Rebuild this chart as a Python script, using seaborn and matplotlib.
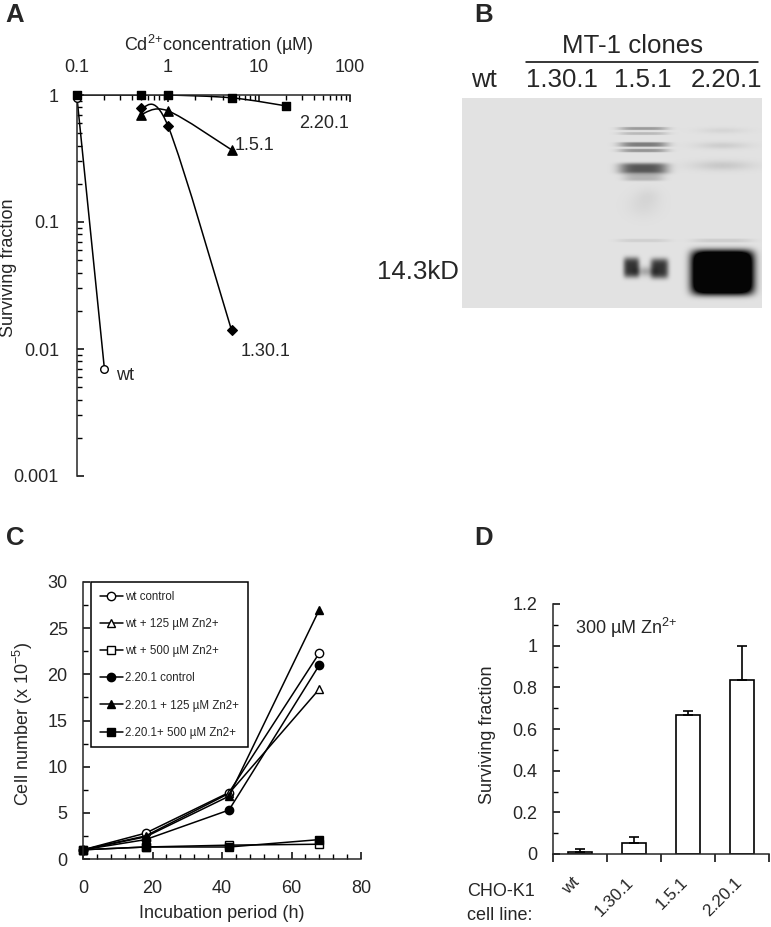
"""Four panel figure: Cd/Zn survival, MT-1 blot, growth curves."""

import numpy as np
import pandas as pd
import matplotlib
matplotlib.use("Agg")
import matplotlib.pyplot as plt
from matplotlib.path import Path
from matplotlib.patches import PathPatch
from matplotlib.ticker import FixedLocator, FixedFormatter, LogLocator, NullFormatter, MultipleLocator
from matplotlib.transforms import ScaledTranslation
import seaborn as sns

W, H = 771, 927

# panel A
cd_wt_x = [0.1, 0.2]
cd_wt_y = [0.95, 0.007]
cd_130_x = [0.5, 1, 5]
cd_130_y = [0.79, 0.57, 0.014]
cd_15_x = [0.5, 1, 5]
cd_15_y = [0.70, 0.75, 0.37]
cd_220_x = [0.1, 0.5, 1, 5, 20]
cd_220_y = [1.0, 1.0, 1.0, 0.95, 0.82]
cd_xticks = [0.1, 1, 10, 100]
cd_xlabels = ["0.1", "1", "10", "100"]
cd_yticks = [0.001, 0.01, 0.1, 1]
cd_ylabels = ["0.001", "0.01", "0.1", "1"]

# panel B: bands as (x, y, half width x, half width y, darkness, edge power)
band_x = [643, 643, 643, 643, 643, 643, 643, 643, 631, 659, 645, 722, 722, 722, 722, 722, 643, 648]
band_y = [128, 133, 144, 150, 168, 177, 240, 205, 267, 268, 271, 130, 145, 165, 240, 272, 90, 195]
band_wx = [24, 24, 24, 24, 24, 20, 26, 16, 8, 9, 9, 24, 26, 30, 30, 31, 20, 12]
band_wy = [1.6, 1.5, 2.4, 1.8, 5.5, 3.5, 1.8, 12, 10, 10, 5, 3, 3.5, 5, 2, 22, 1, 8]
band_dark = [0.28, 0.16, 0.40, 0.30, 0.55, 0.18, 0.07, 0.04, 0.68, 0.68, 0.22, 0.05, 0.08, 0.10, 0.08, 1.6, 0.03, 0.03]
band_pow = [4, 4, 4, 4, 4, 4, 4, 2, 4, 4, 2, 2, 2, 2, 4, 6, 2, 2]
blot_labels = ["wt", "1.30.1", "1.5.1", "2.20.1"]
blot_label_x = [484, 562, 643, 727]

# panel C
hours = [0, 18, 42, 68]
zn_names = ["wt control", "wt + 125 µM Zn2+", "wt + 500 µM Zn2+",
            "2.20.1 control", "2.20.1 + 125 µM Zn2+", "2.20.1+ 500 µM Zn2+"]
wt_control = [1, 2.8, 7.2, 22.3]
wt_125 = [1, 2.5, 7.1, 18.4]
wt_500 = [1, 1.3, 1.5, 1.6]
clone_control = [1, 2.1, 5.3, 21]
clone_125 = [1, 2.4, 6.8, 27]
clone_500 = [1, 1.3, 1.3, 2.1]

# panel D
cell_lines = ["wt", "1.30.1", "1.5.1", "2.20.1"]
zn_survival = [0.01, 0.055, 0.665, 0.835]
zn_err = [0.015, 0.025, 0.02, 0.165]

sns.set_style("ticks")
plt.rcParams["font.family"] = ["Liberation Sans", "DejaVu Sans"]
plt.rcParams["mathtext.fontset"] = "custom"
plt.rcParams["mathtext.rm"] = "Liberation Sans"
plt.rcParams["mathtext.default"] = "regular"
plt.rcParams["axes.linewidth"] = 1.1

fig = plt.figure(figsize=(W / 100, H / 100), dpi=100)


def px_axes(left, top, right, bottom):
    return fig.add_axes([left / W, 1 - bottom / H, (right - left) / W, (bottom - top) / H])


def px_text(x, y, s, size=13, ha="center", **kw):
    fig.text(x / W, 1 - y / H, s, fontsize=size, ha=ha, va="center", **kw)


def smooth_line(ax, xs, ys):
    # Excel-like smoothed connector, bezier in log space
    lx, ly = np.log10(xs), np.log10(ys)
    pts = np.column_stack([lx, ly])
    verts, codes = [pts[0]], [Path.MOVETO]
    for i in range(len(pts) - 1):
        prev = pts[max(i - 1, 0)]
        nxt = pts[min(i + 2, len(pts) - 1)]
        verts += [pts[i] + (pts[i + 1] - prev) / 6, pts[i + 1] - (nxt - pts[i]) / 6, pts[i + 1]]
        codes += [Path.CURVE4] * 3
    ax.add_patch(PathPatch(Path(10 ** np.array(verts), codes), fill=False, ec="k", lw=1.1, zorder=2))


# A
ax = px_axes(77, 95, 350, 476)
ax.set_xscale("log")
ax.set_yscale("log")
smooth_line(ax, cd_wt_x, cd_wt_y)
smooth_line(ax, cd_130_x, cd_130_y)
smooth_line(ax, cd_15_x, cd_15_y)
smooth_line(ax, cd_220_x, cd_220_y)
for xs, ys, mk, face, ms in [
    (cd_wt_x, cd_wt_y, "o", "white", 30),
    (cd_130_x, cd_130_y, "D", "k", 24),
    (cd_15_x, cd_15_y, "^", "k", 45),
    (cd_220_x, cd_220_y, "s", "k", 36),
]:
    sns.scatterplot(x=xs, y=ys, marker=mk, color=face, edgecolor="k", linewidth=1,
                    s=ms, clip_on=False, zorder=3, ax=ax)
ax.set_xlim(0.1, 100)
ax.set_ylim(0.001, 1)
ax.spines["right"].set_visible(False)
ax.spines["bottom"].set_visible(False)
ax.spines["top"].set_visible(True)
ax.xaxis.tick_top()
for axis, ticks, labels in [(ax.xaxis, cd_xticks, cd_xlabels), (ax.yaxis, cd_yticks, cd_ylabels)]:
    axis.set_major_locator(FixedLocator(ticks))
    axis.set_major_formatter(FixedFormatter(labels))
    axis.set_minor_locator(LogLocator(base=10, subs=range(2, 10), numticks=12))
    axis.set_minor_formatter(NullFormatter())
ax.tick_params(axis="both", which="major", direction="in", length=5, width=1.1, labelsize=13, color="k")
ax.tick_params(axis="both", which="minor", direction="in", length=3.6, width=1.0, color="k")
ax.tick_params(axis="x", which="major", pad=14)
ax.tick_params(axis="y", which="major", pad=13)
px_text(219, 45, "Cd$^{2{+}}$concentration (µM)")
px_text(9, 268, "Surviving fraction", rotation=90)
px_text(324, 123, "2.20.1")
px_text(255, 146, "1.5.1")
px_text(266, 351, "1.30.1")
px_text(125, 376, "wt")

# B
yy, xx = np.mgrid[98:308, 462:762]
blot = np.full(xx.shape, 0.885)
for cx, cy, wx, wy, dark, p in zip(band_x, band_y, band_wx, band_wy, band_dark, band_pow):
    blot -= dark * np.exp(-(np.abs(xx - cx) / wx) ** p - (np.abs(yy - cy) / wy) ** p)
ax = px_axes(462, 98, 762, 308)
sns.heatmap(np.clip(blot, 0.02, 1), cmap="gray", vmin=0, vmax=1, cbar=False,
            xticklabels=False, yticklabels=False, rasterized=True, ax=ax)
px_text(633, 46, "MT-1 clones", size=18.6)
for x, label in zip(blot_label_x, blot_labels):
    px_text(x, 80, label, size=18.6)
fig.add_artist(plt.Line2D([526 / W, 758 / W], [1 - 62 / H] * 2, color="k", lw=1.1))
px_text(459, 272, "14.3kD", size=18.6, ha="right")

# C
ax = px_axes(83, 582, 361, 859)
zn_series = [wt_control, wt_125, wt_500, clone_control, clone_125, clone_500]
zn_markers = ["o", "^", "s", "o", "^", "s"]
zn_faces = ["white", "white", "white", "k", "k", "k"]
for name, vals, mk, face in zip(zn_names, zn_series, zn_markers, zn_faces):
    df = pd.DataFrame({"hours": hours, "cells": vals})
    sns.lineplot(data=df, x="hours", y="cells", color="k", lw=1.1, marker=mk, ms=6,
                 markerfacecolor=face, markeredgecolor="k", markeredgewidth=1,
                 label=name, clip_on=False, ax=ax)
ax.set_xlim(0, 80)
ax.set_ylim(0, 30)
ax.xaxis.set_major_locator(MultipleLocator(20))
ax.xaxis.set_minor_locator(MultipleLocator(4))
ax.yaxis.set_major_locator(MultipleLocator(5))
ax.yaxis.set_minor_locator(MultipleLocator(2.5))
ax.tick_params(axis="both", which="major", direction="in", length=5, width=1.1, labelsize=13, color="k")
ax.tick_params(axis="both", which="minor", direction="in", length=3.6, width=1.0, color="k")
ax.tick_params(axis="x", which="major", pad=15)
ax.tick_params(axis="y", which="major", pad=11)
ax.set_xlabel("")
ax.set_ylabel("")
sns.despine(ax=ax)
leg = ax.legend(loc="upper left", bbox_to_anchor=((91 - 83) / 278, 1.0), borderaxespad=0,
                fontsize=8.3, frameon=True, fancybox=False, edgecolor="k", framealpha=1,
                labelspacing=1.32, handlelength=2.0, handletextpad=0.2, borderpad=0.75)
leg.get_frame().set_linewidth(1.1)
px_text(222, 914, "Incubation period (h)")
px_text(23, 724, "Cell number (x 10$^{-5}$)", rotation=90)

# D
ax = px_axes(553, 604, 769, 854)
sns.barplot(x=cell_lines, y=zn_survival, color="white", saturation=1, edgecolor="k",
            linewidth=1.2, width=0.43, errorbar=None, ax=ax)
ax.errorbar(range(len(cell_lines)), zn_survival, yerr=[np.zeros(len(zn_err)), zn_err],
            fmt="none", ecolor="k", elinewidth=1.2, capsize=3.5, capthick=1.2)
ax.set_xlim(-0.5, 3.5)
ax.set_ylim(0, 1.2)
ax.yaxis.set_major_locator(FixedLocator([0, 0.2, 0.4, 0.6, 0.8, 1, 1.2]))
ax.yaxis.set_major_formatter(FixedFormatter(["0", "0.2", "0.4", "0.6", "0.8", "1", "1.2"]))
ax.yaxis.set_minor_locator(MultipleLocator(0.1))
ax.xaxis.set_minor_locator(MultipleLocator(1, offset=0.5))
ax.tick_params(axis="y", which="major", direction="in", length=5, width=1.1, labelsize=13, pad=11, color="k")
ax.tick_params(axis="y", which="minor", direction="in", length=3.6, width=1.0, color="k")
ax.tick_params(axis="x", which="major", length=0, labelsize=12.3, pad=15)
ax.tick_params(axis="x", which="minor", direction="out", length=6, width=1.1, color="k")
for label in ax.get_xticklabels():
    label.set_rotation(45)
    label.set_ha("right")
    label.set_rotation_mode("anchor")
    label.set_transform(label.get_transform() + ScaledTranslation(-0.08, 0, fig.dpi_scale_trans))
sns.despine(ax=ax)
px_text(575, 628, "300 µM Zn$^{2{+}}$", ha="left")
px_text(487, 735, "Surviving fraction", rotation=90)
px_text(467, 891, "CHO-K1", ha="left")
px_text(467, 916, "cell line:", ha="left")

# panel letters
for x, y, letter in [(15, 15, "A"), (484, 15, "B"), (15, 538, "C"), (484, 538, "D")]:
    px_text(x, y, letter, size=18.5, fontweight="bold")

fig.savefig("out.png", dpi=100)
plt.close(fig)
